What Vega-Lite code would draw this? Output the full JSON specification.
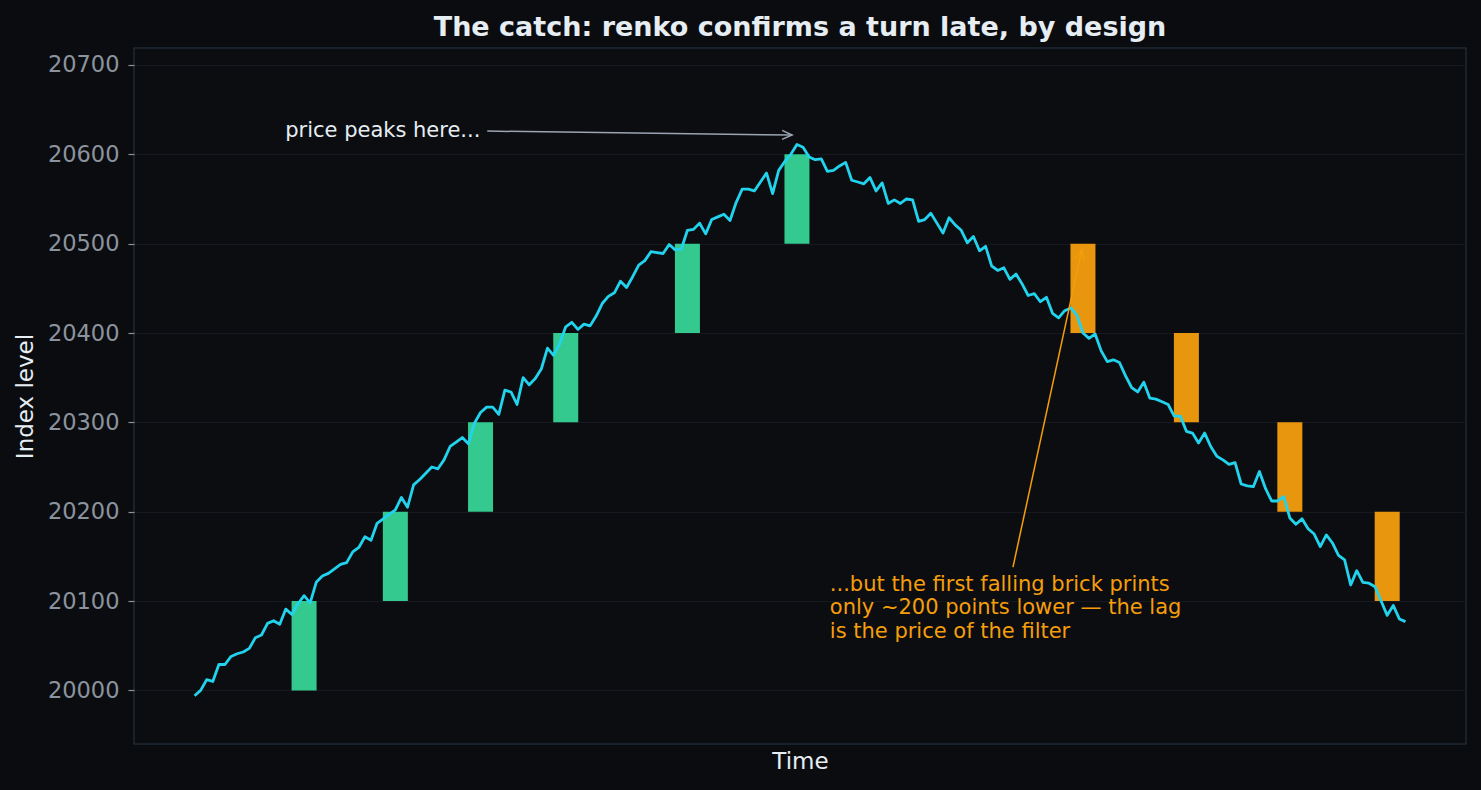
{
  "$schema": "https://vega.github.io/schema/vega-lite/v6.json",
  "width": 1332,
  "height": 696,
  "autosize": {"type": "none"},
  "padding": {"left": 134, "top": 48, "right": 15, "bottom": 46},
  "background": "#0b0c10",
  "title": {
    "text": "The catch: renko confirms a turn late, by design",
    "font": "DejaVu Sans",
    "fontSize": 27,
    "fontWeight": "bold",
    "color": "#e6edf3",
    "anchor": "middle",
    "offset": 6
  },
  "config": {
    "view": {"fill": "#0c0d11", "stroke": "#1f2833", "strokeWidth": 1.5},
    "axis": {
      "labelFont": "DejaVu Sans",
      "titleFont": "DejaVu Sans",
      "titleFontWeight": "normal",
      "titleColor": "#e6edf3",
      "titleFontSize": 23,
      "labelColor": "#8b949e",
      "labelFontSize": 22.5,
      "tickColor": "#8b949e",
      "gridColor": "#16191f",
      "gridWidth": 1,
      "domain": false
    }
  },
  "datasets": {
    "price": [
      {"t": 0, "price": 19994}, {"t": 1, "price": 20000}, {"t": 2, "price": 20012}, {"t": 3, "price": 20010},
      {"t": 4, "price": 20029}, {"t": 5, "price": 20029}, {"t": 6, "price": 20038}, {"t": 7, "price": 20041},
      {"t": 8, "price": 20043}, {"t": 9, "price": 20047}, {"t": 10, "price": 20059}, {"t": 11, "price": 20062},
      {"t": 12, "price": 20075}, {"t": 13, "price": 20078}, {"t": 14, "price": 20074}, {"t": 15, "price": 20091},
      {"t": 16, "price": 20085}, {"t": 17, "price": 20097}, {"t": 18, "price": 20106}, {"t": 19, "price": 20098},
      {"t": 20, "price": 20121}, {"t": 21, "price": 20128}, {"t": 22, "price": 20131}, {"t": 23, "price": 20136},
      {"t": 24, "price": 20141}, {"t": 25, "price": 20143}, {"t": 26, "price": 20155}, {"t": 27, "price": 20160},
      {"t": 28, "price": 20172}, {"t": 29, "price": 20168}, {"t": 30, "price": 20187}, {"t": 31, "price": 20192},
      {"t": 32, "price": 20197}, {"t": 33, "price": 20202}, {"t": 34, "price": 20216}, {"t": 35, "price": 20205},
      {"t": 36, "price": 20230}, {"t": 37, "price": 20236}, {"t": 38, "price": 20243}, {"t": 39, "price": 20250},
      {"t": 40, "price": 20248}, {"t": 41, "price": 20258}, {"t": 42, "price": 20273}, {"t": 43, "price": 20278},
      {"t": 44, "price": 20283}, {"t": 45, "price": 20276}, {"t": 46, "price": 20299}, {"t": 47, "price": 20311},
      {"t": 48, "price": 20317}, {"t": 49, "price": 20317}, {"t": 50, "price": 20309}, {"t": 51, "price": 20336},
      {"t": 52, "price": 20334}, {"t": 53, "price": 20320}, {"t": 54, "price": 20350}, {"t": 55, "price": 20342},
      {"t": 56, "price": 20349}, {"t": 57, "price": 20360}, {"t": 58, "price": 20383}, {"t": 59, "price": 20375},
      {"t": 60, "price": 20388}, {"t": 61, "price": 20407}, {"t": 62, "price": 20412}, {"t": 63, "price": 20404},
      {"t": 64, "price": 20410}, {"t": 65, "price": 20408}, {"t": 66, "price": 20419}, {"t": 67, "price": 20433},
      {"t": 68, "price": 20441}, {"t": 69, "price": 20445}, {"t": 70, "price": 20458}, {"t": 71, "price": 20451},
      {"t": 72, "price": 20463}, {"t": 73, "price": 20476}, {"t": 74, "price": 20481}, {"t": 75, "price": 20491},
      {"t": 76, "price": 20490}, {"t": 77, "price": 20489}, {"t": 78, "price": 20499}, {"t": 79, "price": 20493},
      {"t": 80, "price": 20494}, {"t": 81, "price": 20515}, {"t": 82, "price": 20516}, {"t": 83, "price": 20523},
      {"t": 84, "price": 20511}, {"t": 85, "price": 20527}, {"t": 86, "price": 20530}, {"t": 87, "price": 20533},
      {"t": 88, "price": 20526}, {"t": 89, "price": 20546}, {"t": 90, "price": 20561}, {"t": 91, "price": 20561},
      {"t": 92, "price": 20559}, {"t": 93, "price": 20569}, {"t": 94, "price": 20579}, {"t": 95, "price": 20556},
      {"t": 96, "price": 20582}, {"t": 97, "price": 20592}, {"t": 98, "price": 20600}, {"t": 99, "price": 20611},
      {"t": 100, "price": 20608}, {"t": 101, "price": 20597}, {"t": 102, "price": 20594}, {"t": 103, "price": 20595},
      {"t": 104, "price": 20581}, {"t": 105, "price": 20582}, {"t": 106, "price": 20587}, {"t": 107, "price": 20591},
      {"t": 108, "price": 20571}, {"t": 109, "price": 20569}, {"t": 110, "price": 20567}, {"t": 111, "price": 20574},
      {"t": 112, "price": 20559}, {"t": 113, "price": 20568}, {"t": 114, "price": 20545}, {"t": 115, "price": 20549},
      {"t": 116, "price": 20545}, {"t": 117, "price": 20550}, {"t": 118, "price": 20549}, {"t": 119, "price": 20525},
      {"t": 120, "price": 20527}, {"t": 121, "price": 20534}, {"t": 122, "price": 20523}, {"t": 123, "price": 20512},
      {"t": 124, "price": 20529}, {"t": 125, "price": 20521}, {"t": 126, "price": 20515}, {"t": 127, "price": 20501},
      {"t": 128, "price": 20508}, {"t": 129, "price": 20492}, {"t": 130, "price": 20497}, {"t": 131, "price": 20475},
      {"t": 132, "price": 20470}, {"t": 133, "price": 20473}, {"t": 134, "price": 20460}, {"t": 135, "price": 20466},
      {"t": 136, "price": 20455}, {"t": 137, "price": 20442}, {"t": 138, "price": 20444}, {"t": 139, "price": 20435},
      {"t": 140, "price": 20440}, {"t": 141, "price": 20422}, {"t": 142, "price": 20417}, {"t": 143, "price": 20425},
      {"t": 144, "price": 20428}, {"t": 145, "price": 20420}, {"t": 146, "price": 20400}, {"t": 147, "price": 20394},
      {"t": 148, "price": 20399}, {"t": 149, "price": 20380}, {"t": 150, "price": 20368}, {"t": 151, "price": 20370},
      {"t": 152, "price": 20367}, {"t": 153, "price": 20352}, {"t": 154, "price": 20339}, {"t": 155, "price": 20334},
      {"t": 156, "price": 20345}, {"t": 157, "price": 20327}, {"t": 158, "price": 20326}, {"t": 159, "price": 20323},
      {"t": 160, "price": 20320}, {"t": 161, "price": 20307}, {"t": 162, "price": 20307}, {"t": 163, "price": 20290},
      {"t": 164, "price": 20288}, {"t": 165, "price": 20277}, {"t": 166, "price": 20288}, {"t": 167, "price": 20273},
      {"t": 168, "price": 20262}, {"t": 169, "price": 20258}, {"t": 170, "price": 20253}, {"t": 171, "price": 20255},
      {"t": 172, "price": 20231}, {"t": 173, "price": 20229}, {"t": 174, "price": 20228}, {"t": 175, "price": 20245},
      {"t": 176, "price": 20226}, {"t": 177, "price": 20212}, {"t": 178, "price": 20212}, {"t": 179, "price": 20217},
      {"t": 180, "price": 20193}, {"t": 181, "price": 20186}, {"t": 182, "price": 20192}, {"t": 183, "price": 20181},
      {"t": 184, "price": 20175}, {"t": 185, "price": 20161}, {"t": 186, "price": 20174}, {"t": 187, "price": 20165},
      {"t": 188, "price": 20151}, {"t": 189, "price": 20146}, {"t": 190, "price": 20118}, {"t": 191, "price": 20134},
      {"t": 192, "price": 20121}, {"t": 193, "price": 20120}, {"t": 194, "price": 20116}, {"t": 195, "price": 20100},
      {"t": 196, "price": 20084}, {"t": 197, "price": 20095}, {"t": 198, "price": 20080}, {"t": 199, "price": 20077}
    ],
    "bricks": [
      {"t": 18, "lo": 20000, "hi": 20100, "dir": "up"},
      {"t": 33, "lo": 20100, "hi": 20200, "dir": "up"},
      {"t": 47, "lo": 20200, "hi": 20300, "dir": "up"},
      {"t": 61, "lo": 20300, "hi": 20400, "dir": "up"},
      {"t": 81, "lo": 20400, "hi": 20500, "dir": "up"},
      {"t": 99, "lo": 20500, "hi": 20600, "dir": "up"},
      {"t": 146, "lo": 20400, "hi": 20500, "dir": "down"},
      {"t": 163, "lo": 20300, "hi": 20400, "dir": "down"},
      {"t": 180, "lo": 20200, "hi": 20300, "dir": "down"},
      {"t": 196, "lo": 20100, "hi": 20200, "dir": "down"}
    ],
    "notes": [
      {"id": "peak", "label": "price peaks here...", "t": 14.9, "v": 20626, "ta": 48.1, "va": 20626, "tb": 98.2, "vb": 20621.6},
      {"id": "lag", "label": "...but the first falling brick prints\nonly ~200 points lower — the lag\nis the price of the filter", "t": 104.4, "v": 20111.6, "ta": 134.5, "va": 20138, "tb": 145.8, "vb": 20493}
    ]
  },
  "encoding": {
    "x": {
      "field": "t",
      "type": "quantitative",
      "scale": {"domain": [-9.95, 208.95], "nice": false, "zero": false, "padding": 0},
      "axis": {"title": "Time", "labels": false, "ticks": false, "grid": false, "titlePadding": 6}
    }
  },
  "layer": [
    {
      "data": {"name": "bricks"},
      "mark": {"type": "bar", "width": 25},
      "encoding": {
        "y": {
          "field": "lo",
          "type": "quantitative",
          "title": "Index level",
          "scale": {"domain": [19940, 20719], "nice": false, "zero": false},
          "axis": {
            "values": [20000, 20100, 20200, 20300, 20400, 20500, 20600, 20700],
            "format": "d",
            "tickSize": 6,
            "tickWidth": 1.2,
            "labelPadding": 9,
            "titlePadding": 10
          }
        },
        "y2": {"field": "hi"},
        "color": {
          "field": "dir",
          "type": "nominal",
          "scale": {"domain": ["up", "down"], "range": ["#33c98f", "#e8960e"]},
          "legend": null
        }
      }
    },
    {
      "data": {"name": "price"},
      "mark": {"type": "line", "color": "#22d3ee", "strokeWidth": 2.8, "strokeJoin": "round"},
      "encoding": {
        "y": {
          "field": "price",
          "type": "quantitative",
          "title": "Index level",
          "scale": {"domain": [19940, 20719], "nice": false, "zero": false}
        }
      }
    },
    {
      "data": {"name": "notes"},
      "transform": [{"filter": "datum.id === 'peak'"}],
      "layer": [
        {
          "mark": {"type": "rule", "color": "#9aa5b1", "strokeWidth": 1.5},
          "encoding": {
            "x": {"field": "ta", "type": "quantitative"},
            "y": {"field": "va", "type": "quantitative", "title": "Index level"},
            "x2": {"field": "tb"},
            "y2": {"field": "vb"}
          }
        },
        {
          "mark": {"type": "point", "shape": "M-1,-0.45L0,0L-1,0.45", "filled": false, "size": 400, "color": "#9aa5b1", "strokeWidth": 1.5, "opacity": 1, "angle": 0.75},
          "encoding": {
            "x": {"field": "tb", "type": "quantitative"},
            "y": {"field": "vb", "type": "quantitative", "title": "Index level"}
          }
        },
        {
          "mark": {"type": "text", "align": "left", "baseline": "middle", "font": "DejaVu Sans", "fontSize": 21, "color": "#e6edf3"},
          "encoding": {
            "y": {"field": "v", "type": "quantitative", "title": "Index level"},
            "text": {"field": "label", "type": "nominal"}
          }
        }
      ]
    },
    {
      "data": {"name": "notes"},
      "transform": [{"filter": "datum.id === 'lag'"}],
      "layer": [
        {
          "mark": {"type": "rule", "color": "#f59e0b", "strokeWidth": 1.5},
          "encoding": {
            "x": {"field": "ta", "type": "quantitative"},
            "y": {"field": "va", "type": "quantitative", "title": "Index level"},
            "x2": {"field": "tb"},
            "y2": {"field": "vb"}
          }
        },
        {
          "mark": {"type": "point", "shape": "M-1,-0.45L0,0L-1,0.45", "filled": false, "size": 400, "color": "#f59e0b", "strokeWidth": 1.5, "opacity": 1, "angle": 282.3},
          "encoding": {
            "x": {"field": "tb", "type": "quantitative"},
            "y": {"field": "vb", "type": "quantitative", "title": "Index level"}
          }
        },
        {
          "mark": {"type": "text", "align": "left", "baseline": "alphabetic", "lineBreak": "\n", "lineHeight": 23.5, "font": "DejaVu Sans", "fontSize": 21, "color": "#f59e0b"},
          "encoding": {
            "y": {"field": "v", "type": "quantitative", "title": "Index level"},
            "text": {"field": "label", "type": "nominal"}
          }
        }
      ]
    }
  ]
}
